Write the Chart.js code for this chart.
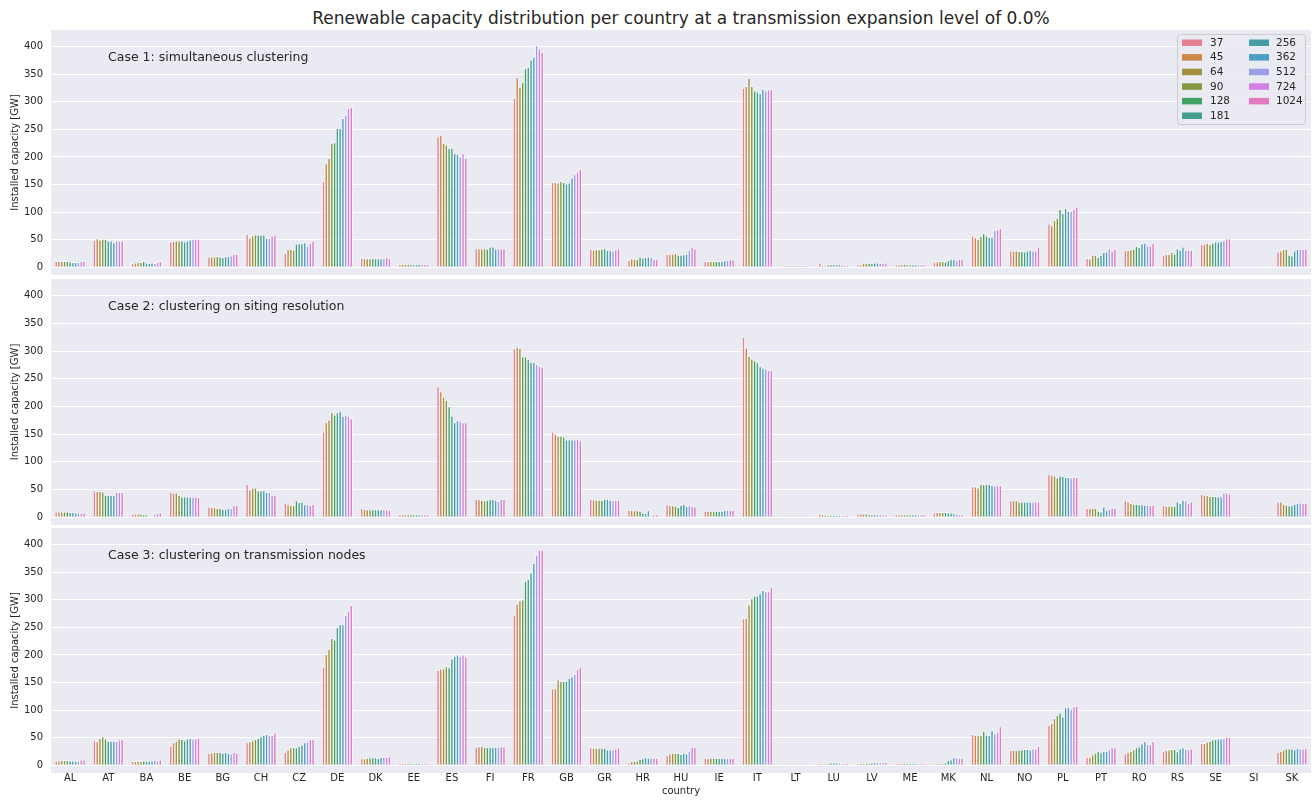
<!DOCTYPE html>
<html>
<head>
<meta charset="utf-8">
<script src="https://cdn.jsdelivr.net/npm/chart.js@4.4.0/dist/chart.umd.min.js"></script>
<style>
html,body{margin:0;padding:0;background:#fff;width:1316px;height:802px;overflow:hidden;font-family:"DejaVu Sans",sans-serif;}
#title{position:absolute;left:51px;width:1260px;top:8px;line-height:20px;text-align:center;font-size:17px;color:#262626;white-space:nowrap;}
.pane{position:absolute;left:0;width:1316px;}
canvas{display:block;}
</style>
</head>
<body>
<div id="title">Renewable capacity distribution per country at a transmission expansion level of 0.0%</div>
<div class="pane" style="top:30px;height:245px"><canvas id="c1" width="1316" height="245"></canvas></div>
<div class="pane" style="top:279px;height:246px"><canvas id="c2" width="1316" height="246"></canvas></div>
<div class="pane" style="top:528px;height:274px"><canvas id="c3" width="1316" height="274"></canvas></div>
<script>
// ---------- data ----------
const countries = ["AL","AT","BA","BE","BG","CH","CZ","DE","DK","EE","ES","FI","FR","GB","GR","HR","HU","IE","IT","LT","LU","LV","ME","MK","NL","NO","PL","PT","RO","RS","SE","SI","SK"];
const resolutions = [37,45,64,90,128,181,256,362,512,724,1024];
const yTicks = [0,50,100,150,200,250,300,350,400];
const caseTitles = ["Case 1: simultaneous clustering","Case 2: clustering on siting resolution","Case 3: clustering on transmission nodes"];

// one row per country, one value per resolution (GW)
const case1 = [
[11,11,11,11,11,10,9,9,9,11,11],
[49,52,50,51,51,48,48,45,49,47,48],
[7,8,9,9,11,8,7,8,7,9,11],
[46,47,48,48,48,46,48,50,51,51,51],
[19,19,19,20,19,18,20,20,21,24,24],
[60,53,57,59,59,59,59,53,53,57,59],
[26,32,33,31,42,43,43,45,38,44,48],
[156,188,198,225,226,252,252,270,275,288,290],
[17,16,16,16,16,16,16,16,16,18,16],
[6,6,6,6,5,5,5,6,6,6,6],
[237,239,225,222,215,216,207,205,200,206,198],
[34,34,34,34,33,37,37,33,34,34,34],
[306,344,326,335,360,363,376,381,402,396,390],
[154,154,153,156,154,151,153,162,168,173,178],
[33,31,32,32,33,34,31,31,30,32,33],
[13,16,15,15,19,17,18,19,18,15,15],
[24,24,24,26,22,22,23,24,31,37,34],
[11,11,11,11,11,11,11,12,13,14,14],
[325,328,343,328,320,318,315,323,320,322,322],
[3,3,3,3,3,3,3,3,3,3,3],
[7,4,3,5,5,5,5,5,5,4,4],
[5,5,7,7,7,7,8,8,7,7,8],
[5,5,5,6,5,5,5,5,5,5,5],
[10,10,11,11,10,12,15,15,13,15,15],
[57,54,51,56,61,57,55,55,67,69,71],
[30,30,30,29,29,28,30,31,30,30,36],
[79,76,85,89,105,98,107,102,102,105,109],
[16,16,22,22,18,22,27,28,34,30,33],
[31,31,32,33,38,36,43,44,39,39,44],
[22,24,24,27,24,34,31,37,31,31,31],
[42,42,44,41,44,46,46,47,49,52,52],
[1,1,1,1,1,1,1,1,1,1,1],
[28,30,33,33,22,21,30,33,33,33,33]
];
const case2 = [
[10,10,10,10,10,9,9,8,8,8,8],
[48,47,47,46,40,40,40,40,45,45,45],
[6,6,6,6,5,5,2,1,6,8,8],
[46,44,44,40,37,37,37,37,37,37,36],
[19,18,18,16,16,15,15,16,16,22,22],
[60,50,53,53,48,48,48,45,45,40,40],
[25,24,22,22,30,27,28,23,23,22,24],
[154,172,176,189,185,189,191,182,184,182,178],
[16,15,14,14,14,14,14,14,14,14,13],
[5,5,5,5,5,5,5,5,5,5,5],
[236,227,217,211,200,183,171,175,173,171,171],
[33,33,31,30,31,33,33,31,29,33,33],
[305,307,305,290,290,285,280,280,276,273,271],
[154,150,147,147,145,140,140,140,140,141,138],
[33,32,31,31,31,33,33,31,30,31,31],
[13,13,12,12,11,8,7,12,1,5,5],
[23,22,21,20,18,22,24,20,22,20,19],
[11,11,11,11,11,11,11,13,13,13,13],
[325,306,291,286,283,279,272,269,268,265,265],
[2,2,2,2,2,2,2,2,2,2,2],
[6,5,5,4,4,4,4,4,4,4,4],
[6,6,6,6,5,5,5,5,5,5,5],
[5,5,5,5,5,5,5,5,5,5,5],
[9,9,9,9,9,8,8,7,6,5,5],
[56,55,53,60,59,60,60,57,57,57,57],
[30,30,30,28,28,28,28,28,28,28,28],
[78,76,75,71,75,74,72,72,71,72,72],
[16,16,16,16,11,10,19,13,15,17,16],
[30,28,25,24,24,23,23,22,22,22,22],
[22,20,20,20,20,28,25,31,30,25,28],
[42,40,39,38,38,38,37,37,44,44,42],
[2,2,2,2,2,2,2,2,3,3,2],
[28,28,24,22,21,21,24,25,26,25,25]
];
const case3 = [
[8,8,9,9,9,8,8,8,8,10,10],
[45,43,49,52,48,44,44,44,44,46,47],
[7,7,7,7,8,8,8,8,10,8,10],
[35,41,44,48,47,45,48,49,48,48,50],
[22,23,24,24,24,22,24,22,21,24,22],
[41,43,45,47,49,52,55,56,54,55,59],
[24,28,32,32,32,35,37,41,43,47,47],
[178,201,210,230,227,250,255,255,272,279,290],
[12,12,13,14,14,14,13,15,15,15,16],
[4,4,4,4,4,4,4,4,4,4,4],
[172,175,175,179,177,193,198,200,198,200,197],
[33,34,35,33,32,33,33,33,33,34,34],
[272,292,298,300,334,337,349,366,381,390,390],
[139,139,155,152,152,153,158,161,165,174,178],
[32,31,31,31,31,31,28,28,28,30,32],
[5,7,8,8,11,12,14,13,14,13,13],
[18,21,22,22,22,20,22,21,25,33,33],
[13,12,13,13,13,13,13,13,13,13,13],
[266,267,291,302,307,307,311,317,315,315,322],
[2,2,2,2,2,2,2,2,2,2,2],
[4,3,3,4,5,5,5,4,4,4,4],
[4,4,4,4,4,5,5,5,5,6,6],
[4,4,4,4,4,4,4,4,4,4,4],
[4,4,4,4,5,9,10,14,14,13,13],
[56,55,55,55,62,55,55,63,57,60,70],
[27,27,27,28,28,29,29,28,30,30,35],
[73,76,85,91,95,88,104,105,102,107,108],
[15,15,19,22,25,23,25,26,28,32,32],
[21,24,26,28,32,34,39,43,38,38,43],
[26,27,28,29,29,25,30,32,30,29,30],
[40,40,42,44,46,47,48,48,49,51,51],
[1,1,1,1,1,1,1,1,1,1,1],
[24,26,28,30,30,30,28,31,30,30,31]
];

// ---------- colours: seaborn husl palette, desaturated 0.75 ----------
const HM = [[3.2406,-1.5372,-0.4986],[-0.9689,1.8758,0.0415],[0.0557,-0.2040,1.0570]];
function maxChroma(L,H){
  const hr=H/360*2*Math.PI, sH=Math.sin(hr), cH=Math.cos(hr);
  const sub1=Math.pow(L+16,3)/1560896, sub2=sub1>0.008856?sub1:L/903.3;
  let res=Infinity;
  for(const [m1,m2,m3] of HM){
    const top=(0.99915*m1+1.05122*m2+1.14460*m3)*sub2;
    const rb=0.86330*m3-0.17266*m2, lb=0.12949*m3-0.38848*m1;
    const bottom=(rb*sH+lb*cH)*sub2;
    for(const t of [0,1]){
      const C=L*(top-1.05122*t)/(bottom+0.17266*sH*t);
      if(C>0&&C<res)res=C;
    }
  }
  return res;
}
function huslToRgb(H,S,L){
  const C=maxChroma(L,H)/100*S, hr=H/360*2*Math.PI;
  const U=C*Math.cos(hr), V=C*Math.sin(hr);
  const t=(L+16)/116, t3=t*t*t;
  const Y=t3>0.008856?t3:(116*t-16)/903.3;
  const vu=U/(13*L)+0.19784, vv=V/(13*L)+0.46834;
  const X=-(9*Y*vu)/((vu-4)*vv-vu*vv);
  const Z=(9*Y-15*vv*Y-vv*X)/(3*vv);
  return HM.map(([a,b,c])=>{let v=a*X+b*Y+c*Z; v=v<=0.0031308?12.92*v:1.055*Math.pow(v,1/2.4)-0.055; return Math.min(1,Math.max(0,v));});
}
function desat([r,g,b],p){
  const mx=Math.max(r,g,b), mn=Math.min(r,g,b), l=(mx+mn)/2;
  if(mx===mn) return [r,g,b];
  let s=l<=0.5?(mx-mn)/(mx+mn):(mx-mn)/(2-mx-mn);
  const rc=(mx-r)/(mx-mn), gc=(mx-g)/(mx-mn), bc=(mx-b)/(mx-mn);
  let h; if(r===mx)h=bc-gc; else if(g===mx)h=2+rc-bc; else h=4+gc-rc;
  h=((h/6)%1+1)%1; s*=p;
  const m2=l<=0.5?l*(1+s):l+s-l*s, m1=2*l-m2;
  const v=(hh)=>{hh=((hh%1)+1)%1; if(hh<1/6)return m1+(m2-m1)*hh*6; if(hh<0.5)return m2; if(hh<2/3)return m1+(m2-m1)*(2/3-hh)*6; return m1;};
  return [v(h+1/3),v(h),v(h-1/3)];
}
const colors = resolutions.map((_,i)=>{
  const h=((i/resolutions.length)+0.01)%1*359;
  const rgb=desat(huslToRgb(h,0.9*99,0.65*99),0.75);
  return 'rgb('+rgb.map(c=>Math.round(c*255)).join(',')+')';
});

// ---------- plugins ----------
const FONT='"DejaVu Sans", sans-serif';
const TXT='#262626';
const bgPlugin={id:'bg',beforeDraw(chart){const a=chart.chartArea,c=chart.ctx;c.save();c.fillStyle='#eaeaf2';c.fillRect(a.left,a.top,a.right-a.left,a.bottom-a.top);c.restore();}};
function casePlugin(text){return {id:'case',afterDatasetsDraw(chart){const a=chart.chartArea,c=chart.ctx;c.save();c.font='12.5px '+FONT;c.fillStyle=TXT;c.textBaseline='middle';c.textAlign='left';c.fillText(text,a.left+57,a.top+28);c.restore();}};}
const legendPlugin={id:'lg',afterDraw(chart){
  const c=chart.ctx; c.save();
  c.beginPath(); c.roundRect(1177.5,4.5,128,90,3);
  c.fillStyle='rgba(234,234,242,0.8)'; c.fill();
  c.strokeStyle='#cccccc'; c.lineWidth=1; c.stroke();
  c.font='10.5px '+FONT; c.textBaseline='middle'; c.textAlign='left';
  chart.data.datasets.forEach((ds,i)=>{
    const col=i<6?0:1,row=i<6?i:i-6;
    const sx=col?1249:1182, cy=12.5+row*14.6;
    c.fillStyle=ds.backgroundColor; c.fillRect(sx,cy-3,20,6.5);
    c.fillStyle=TXT; c.fillText(ds.label,col?1276:1210,cy+0.5);
  });
  c.restore();
}};

function makeChart(id, rows, idx, showX){
  const datasets=resolutions.map((r,j)=>({
    label:String(r),
    data:rows.map(row=>row[j]),
    backgroundColor:colors[j],
    borderColor:'#ffffff',
    borderWidth:{left:0.7,right:0.7,top:0.7,bottom:0},
    borderSkipped:'start',
    categoryPercentage:0.8,
    barPercentage:1.0
  }));
  const pl=[bgPlugin,casePlugin(caseTitles[idx])];
  if(idx===0) pl.push(legendPlugin);
  return new Chart(document.getElementById(id),{
    type:'bar',
    data:{labels:countries,datasets},
    options:{
      responsive:false, animation:false, devicePixelRatio:1,
      layout:{autoPadding:false,padding:{left:0,right:5,top:0,bottom:0}},
      plugins:{legend:{display:false},tooltip:{enabled:false},title:{display:false}},
      scales:{
        x:{display:showX,grid:{display:false,drawTicks:false},border:{display:false},
           ticks:{font:{family:FONT,size:10},color:TXT,padding:-1,maxRotation:0,autoSkip:false},
           title:{display:showX,text:'country',font:{family:FONT,size:10},color:TXT,padding:{top:0,bottom:5}},
           afterFit:s=>{s.height=showX?29:0;s.paddingLeft=0;s.paddingRight=0;}},
        y:{min:-14,max:430,
           afterBuildTicks:s=>{s.ticks=yTicks.map(v=>({value:v}));},
           afterFit:s=>{s.width=51;s.paddingTop=0;s.paddingBottom=0;},
           grid:{color:'#ffffff',lineWidth:1,drawTicks:false},border:{display:false},
           ticks:{padding:8,font:{family:FONT,size:10},color:TXT},
           title:{display:true,text:'Installed capacity [GW]',font:{family:FONT,size:10},color:TXT,padding:{top:9,bottom:0}}}
      }
    },
    plugins:pl
  });
}
makeChart('c1',case1,0,false);
makeChart('c2',case2,1,false);
makeChart('c3',case3,2,true);
</script>
</body>
</html>
